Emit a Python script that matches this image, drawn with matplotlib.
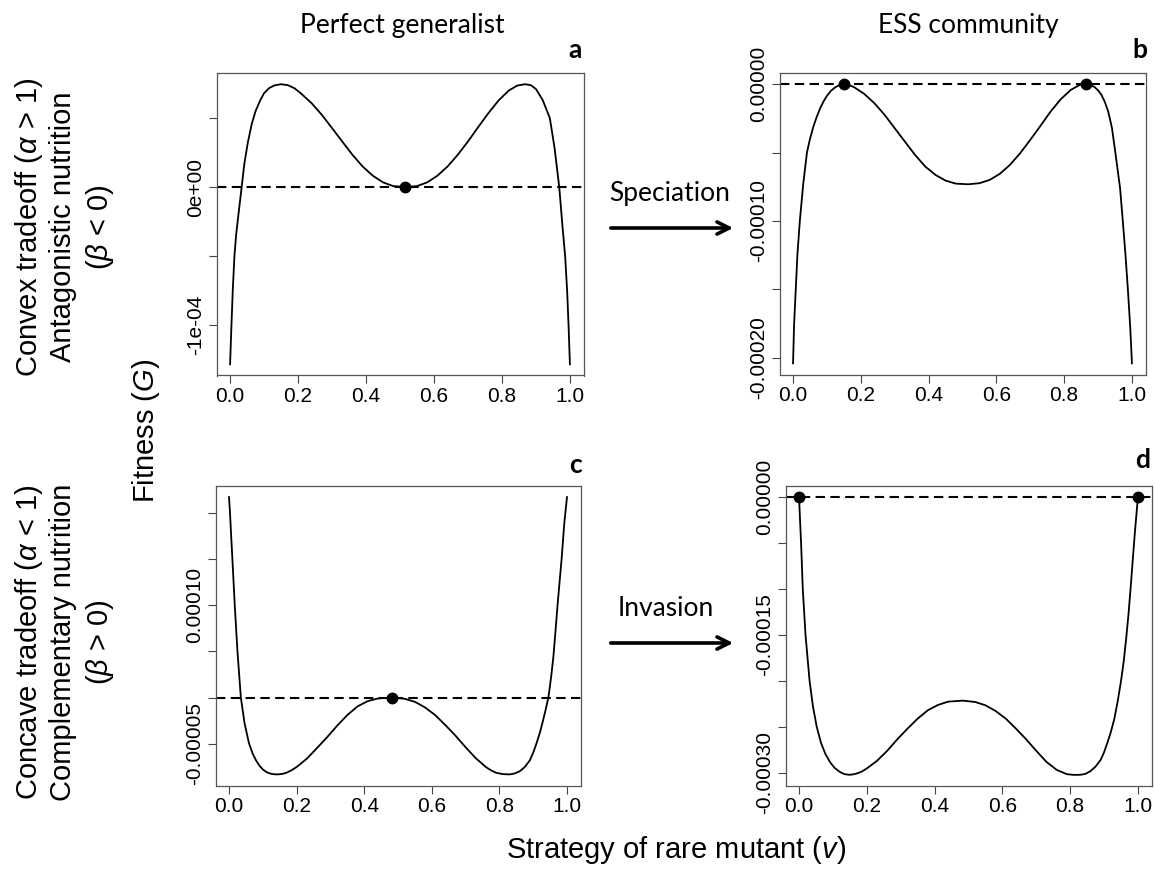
import numpy as np
import matplotlib
matplotlib.use('Agg')
import matplotlib.pyplot as plt

plt.rcParams['font.family'] = ['Liberation Sans', 'DejaVu Sans']
plt.rcParams['mathtext.fontset'] = 'custom'
plt.rcParams['mathtext.rm'] = 'Liberation Sans'
plt.rcParams['mathtext.it'] = 'Liberation Sans:italic'

# ---- data (fitness values in units of 1e-5) ----
v_a = [0.000, 0.002, 0.004, 0.008, 0.0127, 0.018, 0.025, 0.034, 0.042, 0.052,
       0.064, 0.075, 0.088, 0.100, 0.115, 0.130, 0.150, 0.170, 0.190, 0.210,
       0.240, 0.270, 0.300, 0.330, 0.360, 0.390, 0.420, 0.450, 0.480, 0.515,
       0.550, 0.580, 0.610, 0.640, 0.670, 0.700, 0.730, 0.760, 0.790, 0.820,
       0.845, 0.868, 0.885, 0.900, 0.920, 0.941, 0.955, 0.9686, 0.978, 0.986,
       0.992, 0.996, 1.000]
g_a = [-12.84, -11.4, -10.0, -7.4, -5.01, -3.4, -1.9, 0.0, 1.7, 3.2,
       4.6, 5.5, 6.25, 6.8, 7.17, 7.36, 7.45, 7.38, 7.15, 6.75,
       6.07, 5.23, 4.27, 3.30, 2.34, 1.49, 0.82, 0.34, 0.07, 0.0,
       0.07, 0.34, 0.82, 1.49, 2.34, 3.30, 4.34, 5.35, 6.27, 6.99,
       7.35, 7.45, 7.38, 7.10, 6.30, 4.99, 2.8, 0.0, -2.8, -5.0,
       -7.6, -10.0, -12.84]

v_b = [0.000, 0.003, 0.008, 0.013, 0.020, 0.030, 0.041, 0.050, 0.060, 0.070,
       0.080, 0.090, 0.100, 0.112, 0.125, 0.138, 0.151, 0.165, 0.180, 0.210,
       0.240, 0.270, 0.300, 0.330, 0.360, 0.390, 0.420, 0.450, 0.480, 0.517,
       0.550, 0.580, 0.610, 0.640, 0.670, 0.700, 0.730, 0.760, 0.790, 0.820,
       0.845, 0.865, 0.878, 0.890, 0.900, 0.910, 0.920, 0.930, 0.941, 0.951,
       0.958, 0.965, 0.973, 0.981, 0.988, 0.995, 1.000]
g_b = [-20.41, -17.6, -15.0, -12.4, -10.0, -7.3, -5.0, -4.0, -3.10, -2.38,
       -1.76, -1.26, -0.85, -0.48, -0.22, -0.06, 0.0, -0.06, -0.22, -0.71,
       -1.39, -2.24, -3.22, -4.20, -5.17, -6.02, -6.63, -7.05, -7.27, -7.32,
       -7.24, -7.00, -6.56, -5.90, -5.05, -4.07, -3.05, -2.00, -1.10, -0.41,
       -0.07, 0.0, -0.06, -0.22, -0.45, -0.78, -1.3, -2.00, -3.2, -5.0,
       -6.3, -7.6, -10.0, -12.5, -15.0, -17.8, -20.41]

v_c = [0.000, 0.003, 0.006, 0.010, 0.017, 0.025, 0.035, 0.046, 0.059, 0.070,
       0.080, 0.090, 0.100, 0.110, 0.120, 0.132, 0.144, 0.157, 0.170, 0.185,
       0.200, 0.230, 0.260, 0.290, 0.320, 0.350, 0.380, 0.410, 0.440, 0.481,
       0.520, 0.550, 0.580, 0.610, 0.640, 0.670, 0.700, 0.730, 0.760, 0.775,
       0.790, 0.810, 0.830, 0.845, 0.860, 0.875, 0.890, 0.900, 0.910, 0.920,
       0.929, 0.937, 0.945, 0.953, 0.960, 0.966, 0.972, 0.978, 0.984, 0.992,
       1.000]
g_c = [21.76, 20.0, 17.8, 15.0, 10.0, 5.0, 0.0, -2.8, -4.96, -6.1,
       -6.83, -7.4, -7.81, -8.08, -8.24, -8.33, -8.35, -8.30, -8.17, -7.9,
       -7.55, -6.65, -5.50, -4.32, -3.06, -1.91, -0.97, -0.40, -0.11, 0.0,
       -0.14, -0.47, -1.08, -1.91, -2.99, -4.14, -5.40, -6.58, -7.55, -7.9,
       -8.17, -8.32, -8.35, -8.25, -8.02, -7.55, -6.83, -6.0, -4.96, -3.8,
       -2.52, -1.3, 0.0, 2.2, 4.50, 7.2, 10.0, 12.5, 15.0, 18.9,
       21.76]

v_d = [0.000, 0.003, 0.006, 0.011, 0.019, 0.031, 0.041, 0.052, 0.065, 0.078,
       0.092, 0.105, 0.120, 0.134, 0.148, 0.160, 0.170, 0.185, 0.200, 0.230,
       0.260, 0.290, 0.320, 0.350, 0.380, 0.410, 0.440, 0.483, 0.520, 0.550,
       0.580, 0.610, 0.640, 0.670, 0.700, 0.730, 0.760, 0.790, 0.810, 0.830,
       0.845, 0.860, 0.875, 0.890, 0.900, 0.910, 0.920, 0.930, 0.940, 0.950,
       0.958, 0.965, 0.972, 0.978, 0.984, 0.990, 0.995, 1.000]
g_d = [0.0, -2.6, -5.0, -10.0, -15.0, -20.0, -22.8, -25.0, -26.8, -28.0,
       -28.9, -29.5, -29.93, -30.18, -30.25, -30.2, -30.11, -29.9, -29.56, -28.73,
       -27.64, -26.38, -25.22, -24.13, -23.22, -22.64, -22.28, -22.17, -22.32, -22.68,
       -23.30, -24.13, -25.22, -26.38, -27.64, -28.84, -29.71, -30.18, -30.26, -30.25,
       -30.15, -29.85, -29.35, -28.62, -27.8, -26.74, -25.6, -24.20, -22.3, -20.04,
       -17.9, -15.51, -12.8, -10.07, -7.2, -4.28, -2.1, 0.0]

# singular strategies (dots)
dots_a = [0.515]
dots_b = [0.151, 0.865]
dots_c = [0.481]
dots_d = [0.0, 1.0]

x_ticks = [0.0, 0.2, 0.4, 0.6, 0.8, 1.0]
x_labels = ['0.0', '0.2', '0.4', '0.6', '0.8', '1.0']

yt_a = [5e-5, 0.0, -5e-5, -1e-4]
yl_a = ['', '0e+00', '', '-1e-04']
yt_b = [0.0, -5e-5, -1e-4, -1.5e-4, -2e-4]
yl_b = ['0.00000', '', '-0.00010', '', '-0.00020']
yt_c = [2e-4, 1.5e-4, 1e-4, 5e-5, 0.0, -5e-5]
yl_c = ['', '', '0.00010', '', '', '-0.00005']
yt_d = [0.0, -5e-5, -1e-4, -1.5e-4, -2e-4, -2.5e-4, -3e-4]
yl_d = ['0.00000', '', '', '-0.00015', '', '', '-0.00030']

W, H = 1155, 874
fig = plt.figure(figsize=(W / 100, H / 100), dpi=100)


def px_axes(left, top, right, bottom):
    return fig.add_axes([left / W, 1 - bottom / H, (right - left) / W, (bottom - top) / H])


def draw_panel(ax, v, g, dots, yticks, ylabels):
    g = np.array(g) * 1e-5
    ax.plot(v, g, color='black', lw=1.3, solid_joinstyle='round')
    ax.axhline(0, color='black', lw=1.5, linestyle=(0, (4.5, 2.6)))
    ax.plot(dots, [0.0] * len(dots), 'o', color='black', markersize=7.5, clip_on=False)
    ax.margins(x=0.04, y=0.04)
    ax.set_xticks(x_ticks)
    ax.set_xticklabels(x_labels)
    ax.set_yticks(yticks)
    ax.set_yticklabels(ylabels, rotation=90, va='center')
    ax.tick_params(direction='out', length=5.5, width=0.8, color='#444444',
                   labelsize=15, pad=2.5)
    for s in ax.spines.values():
        s.set_color('#555555')
        s.set_linewidth(0.9)


ax_a = px_axes(216.5, 73, 583.5, 375.5)
ax_b = px_axes(779.5, 73, 1145.5, 374.5)
ax_c = px_axes(215.5, 486, 580.5, 785.5)
ax_d = px_axes(785.5, 486, 1151.5, 786)

draw_panel(ax_a, v_a, g_a, dots_a, yt_a, yl_a)
draw_panel(ax_b, v_b, g_b, dots_b, yt_b, yl_b)
draw_panel(ax_c, v_c, g_c, dots_c, yt_c, yl_c)
draw_panel(ax_d, v_d, g_d, dots_d, yt_d, yl_d)


def ftext(x, y, s, **kw):
    fig.text(x / W, 1 - y / H, s, ha='center', va='center', **kw)


# column titles and panel letters
ftext(402, 25, 'Perfect generalist', fontsize=19, family=['Lato', 'DejaVu Sans'])
ftext(968, 25, 'ESS community', fontsize=19, family=['Lato', 'DejaVu Sans'])
for lx, ly, letter in [(575, 50, 'a'), (1140, 50, 'b'), (575, 465, 'c'), (1143, 460, 'd')]:
    ftext(lx, ly, letter, fontsize=19, fontweight='bold', family=['Lato', 'DejaVu Sans'])

# transition arrows
ftext(670, 193, 'Speciation', fontsize=19, family=['Lato', 'DejaVu Sans'])
ftext(666, 608, 'Invasion', fontsize=19, family=['Lato', 'DejaVu Sans'])
for ay in [228, 643]:
    fig.add_artist(matplotlib.patches.FancyArrowPatch(
        (608 / W, 1 - ay / H), (736 / W, 1 - ay / H), transform=fig.transFigure,
        arrowstyle='->', mutation_scale=22, lw=2.6, color='black'))

# row labels
row_top = ['Convex tradeoff ($\\alpha$ > 1)', 'Antagonistic nutrition', '($\\beta$ < 0)']
row_bottom = ['Concave tradeoff ($\\alpha$ < 1)', 'Complementary nutrition', '($\\beta$ > 0)']
for i, xpos in enumerate([29, 63, 100]):
    ftext(xpos, 227, row_top[i], fontsize=21, rotation=90)
    ftext(xpos, 642, row_bottom[i], fontsize=21, rotation=90)

ftext(146, 431, 'Fitness ($G$)', fontsize=21, rotation=90)
ftext(676, 850, 'Strategy of rare mutant ($v$)', fontsize=21)

plt.savefig('out.png', dpi=100)
plt.close()
